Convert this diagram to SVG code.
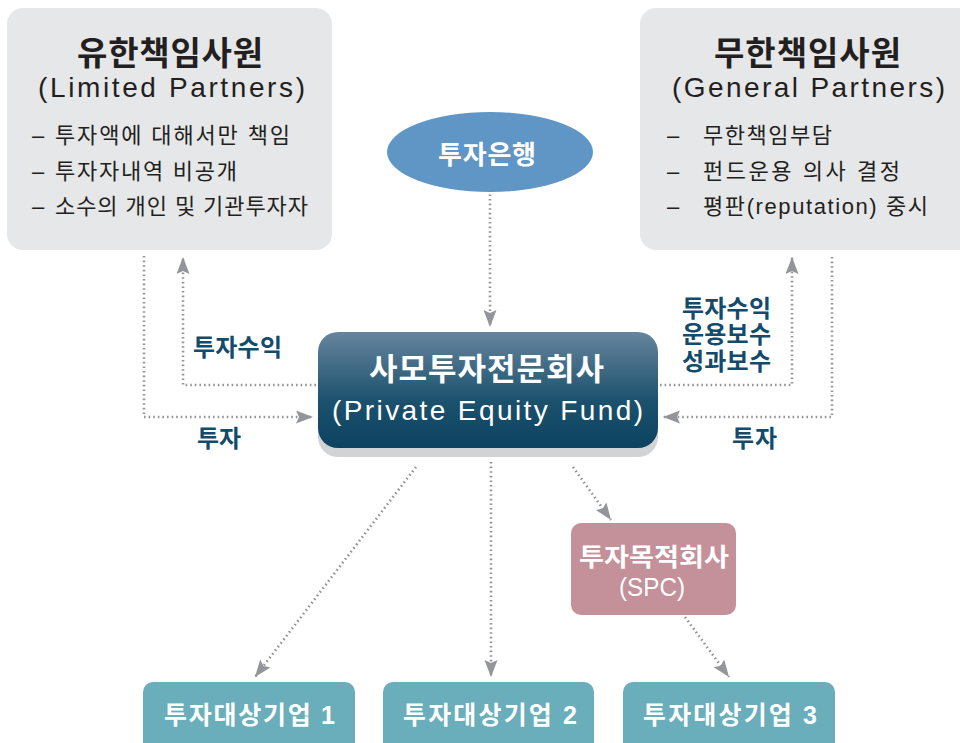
<svg xmlns="http://www.w3.org/2000/svg" width="960" height="743" viewBox="0 0 960 743">
<style>
.kr{font-family:"Liberation Sans","Noto Sans CJK KR",sans-serif}
.dark{fill:#231f20}
.lbl{fill:#124b6b;font-weight:bold;font-size:24px}
.wt{fill:#ffffff}
.conn{fill:none;stroke:#939598;stroke-width:2.6;stroke-dasharray:1.6 3;marker-end:url(#arr)}
.pbox{fill:#e6e7e8}
.tbox{fill:#6aaebb}
</style>
<defs>
<marker id="arr" markerUnits="userSpaceOnUse" markerWidth="18" markerHeight="14" viewBox="0 0 18 14" refX="17" refY="6.5" orient="auto">
<path d="M0,0 L17,6.5 L0,13 L3,6.5 Z" fill="#939598"/>
</marker>
<linearGradient id="pefg" x1="0" y1="0" x2="0" y2="1">
<stop offset="0" stop-color="#66849d"/>
<stop offset="0.6" stop-color="#1b516d"/>
<stop offset="1" stop-color="#0c4360"/>
</linearGradient>
</defs>

<g id="connectors">
<path class="conn" d="M490,176 L490,327"/>
<path class="conn" d="M144,256 V417 H313"/>
<path class="conn" d="M316,385 H183 V257"/>
<path class="conn" d="M660,385 H792 V257"/>
<path class="conn" d="M832,257 V417 H663"/>
<path class="conn" d="M416,467 L255,677"/>
<path class="conn" d="M491,462 L491,677"/>
<path class="conn" d="M573,467 L611,520"/>
<path class="conn" d="M685,617 L729,677"/>
</g>

<g id="lp">
<rect class="pbox" x="7" y="8" width="325" height="242" rx="16"/>
<text class="kr dark" x="77" y="65" font-size="33" font-weight="bold" textLength="186" lengthAdjust="spacing">유한책임사원</text>
<text class="kr dark" x="38" y="97" font-size="28" textLength="267" lengthAdjust="spacing">(Limited Partners)</text>
<text class="kr dark" x="32" y="143" font-size="22">–</text>
<text class="kr dark" x="55" y="143" font-size="22" textLength="235" lengthAdjust="spacing">투자액에 대해서만 책임</text>
<text class="kr dark" x="32" y="179" font-size="22">–</text>
<text class="kr dark" x="55" y="179" font-size="22" textLength="182" lengthAdjust="spacing">투자자내역 비공개</text>
<text class="kr dark" x="32" y="214" font-size="22">–</text>
<text class="kr dark" x="55" y="214" font-size="22" textLength="253" lengthAdjust="spacing">소수의 개인 및 기관투자자</text>
</g>

<g id="gp">
<rect class="pbox" x="640" y="8" width="340" height="242" rx="16"/>
<text class="kr dark" x="714" y="65" font-size="33" font-weight="bold" textLength="187" lengthAdjust="spacing">무한책임사원</text>
<text class="kr dark" x="672" y="97" font-size="28" textLength="273" lengthAdjust="spacing">(General Partners)</text>
<text class="kr dark" x="667" y="143" font-size="22">–</text>
<text class="kr dark" x="703" y="143" font-size="22" textLength="129" lengthAdjust="spacing">무한책임부담</text>
<text class="kr dark" x="667" y="179" font-size="22">–</text>
<text class="kr dark" x="703" y="179" font-size="22" textLength="197" lengthAdjust="spacing">펀드운용 의사 결정</text>
<text class="kr dark" x="667" y="214" font-size="22">–</text>
<text class="kr dark" x="703" y="214" font-size="22" textLength="225" lengthAdjust="spacing">평판(reputation) 중시</text>
</g>

<g id="bank">
<ellipse cx="490" cy="152" rx="103" ry="40" fill="#5f96c6"/>
<text class="kr wt" x="438" y="164" font-size="26" font-weight="bold" textLength="98" lengthAdjust="spacing">투자은행</text>
</g>

<g id="pef">
<rect x="318" y="341" width="340" height="116" rx="20" fill="#d1d3d4"/>
<rect x="318" y="332" width="340" height="116" rx="20" fill="url(#pefg)"/>
<text class="kr wt" x="369" y="380" font-size="31" font-weight="bold" textLength="235" lengthAdjust="spacing">사모투자전문회사</text>
<text class="kr wt" x="332" y="420" font-size="28" textLength="311" lengthAdjust="spacing">(Private Equity Fund)</text>
</g>

<g id="labels">
<text class="kr lbl" x="193" y="356" textLength="89" lengthAdjust="spacing">투자수익</text>
<text class="kr lbl" x="197" y="447" textLength="44" lengthAdjust="spacing">투자</text>
<text class="kr lbl" x="682" y="317" textLength="89" lengthAdjust="spacing">투자수익</text>
<text class="kr lbl" x="682" y="343" textLength="89" lengthAdjust="spacing">운용보수</text>
<text class="kr lbl" x="682" y="370" textLength="89" lengthAdjust="spacing">성과보수</text>
<text class="kr lbl" x="732" y="447" textLength="45" lengthAdjust="spacing">투자</text>
</g>

<g id="spc">
<rect x="571" y="523" width="165" height="92" rx="10" fill="#c4909a"/>
<text class="kr wt" x="654" y="566" font-size="25" font-weight="bold" text-anchor="middle" textLength="150" lengthAdjust="spacingAndGlyphs">투자목적회사</text>
<text class="kr wt" x="652" y="596" font-size="25" text-anchor="middle" textLength="66" lengthAdjust="spacingAndGlyphs">(SPC)</text>
</g>

<g id="company1">
<rect class="tbox" x="143" y="682" width="212" height="80" rx="10"/>
<text class="kr wt" x="164" y="724" font-size="25" font-weight="bold" textLength="171" lengthAdjust="spacing">투자대상기업 1</text>
</g>
<g id="company2">
<rect class="tbox" x="383" y="682" width="211" height="80" rx="10"/>
<text class="kr wt" x="403" y="724" font-size="25" font-weight="bold" textLength="174" lengthAdjust="spacing">투자대상기업 2</text>
</g>
<g id="company3">
<rect class="tbox" x="623" y="682" width="212" height="80" rx="10"/>
<text class="kr wt" x="643" y="724" font-size="25" font-weight="bold" textLength="174" lengthAdjust="spacing">투자대상기업 3</text>
</g>
</svg>
